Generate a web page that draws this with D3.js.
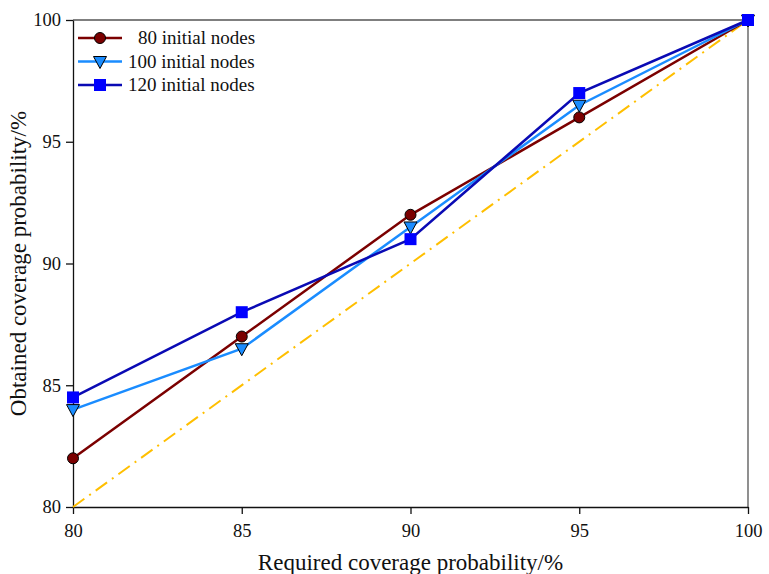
<!DOCTYPE html>
<html>
<head>
<meta charset="utf-8">
<script src="https://cdn.jsdelivr.net/npm/d3@7"></script>
<style>
	body { margin: 0; background: #fff; }
	text { font-family: "Liberation Serif", "Times New Roman", serif; }
</style>
</head>
<body>
<svg id="chart" width="769" height="574"></svg>
<script>
var required = [80, 85, 90, 95, 100];
var nodes80 = [82, 87, 92, 96, 100];
var nodes100 = [84, 86.5, 91.5, 96.5, 100];
var nodes120 = [84.5, 88, 91, 97, 100];
var xTicks = [80, 85, 90, 95, 100];
var yTicks = [80, 85, 90, 95, 100];
var seriesNames = ["80 initial nodes", "100 initial nodes", "120 initial nodes"];

var series = [
	{ name: seriesNames[0], values: nodes80, line: "#7b0000", fill: "#7b0000", stroke: "#000", shape: "circle" },
	{ name: seriesNames[1], values: nodes100, line: "#1a8cff", fill: "#1a8cff", stroke: "#000", shape: "triangle" },
	{ name: seriesNames[2], values: nodes120, line: "#0a0ab4", fill: "#0000ff", stroke: "none", shape: "square" }
];

var svg = d3.select("#chart");
var pLeft = 73, pRight = 748, pTop = 20, pBottom = 507;

var x = d3.scaleLinear().domain([80, 100]).range([pLeft, pRight]);
var y = d3.scaleLinear().domain([80, 100]).range([pBottom, pTop]);

// frame top/right
svg.append("path")
	.attr("d", "M" + pLeft + "," + pTop + "H" + pRight + "V" + pBottom)
	.attr("fill", "none").attr("stroke", "#555").attr("stroke-width", 1.3);

// axes
var xaxis = svg.append("g").attr("transform", "translate(0," + pBottom + ")")
	.call(d3.axisBottom(x).tickValues(xTicks).tickSize(7).tickSizeOuter(0).tickPadding(10));
var yaxis = svg.append("g").attr("transform", "translate(" + pLeft + ",0)")
	.call(d3.axisLeft(y).tickValues(yTicks).tickSize(7).tickSizeOuter(0).tickPadding(5));

[xaxis, yaxis].forEach(function(g){
	g.attr("font-family", null).attr("font-size", null);
	g.select(".domain").attr("stroke", "#111").attr("stroke-width", 1.3);
	g.selectAll(".tick line").attr("stroke", "#111").attr("stroke-width", 1.3);
	g.selectAll(".tick text").attr("fill", "#111")
		.style("font-family", "'Liberation Serif', serif").style("font-size", "18.5px");
});

// diagonal reference
svg.append("line")
	.attr("x1", x(80)).attr("y1", y(80)).attr("x2", x(100)).attr("y2", y(100))
	.attr("stroke", "#ffbf00").attr("stroke-width", 2)
	.attr("stroke-dasharray", "14,6,2,6");

var line = d3.line()
	.x(function(d, i){ return x(required[i]); })
	.y(function(d){ return y(d); });

function marker(g, s, cx, cy){
	if (s.shape === "circle"){
		g.append("circle").attr("cx", cx).attr("cy", cy).attr("r", 5.5)
			.attr("fill", s.fill).attr("stroke", s.stroke).attr("stroke-width", 1);
	} else if (s.shape === "triangle"){
		g.append("path")
			.attr("d", "M" + (cx - 6.5) + "," + (cy - 5) + "L" + (cx + 6.5) + "," + (cy - 5) + "L" + cx + "," + (cy + 7) + "Z")
			.attr("fill", s.fill).attr("stroke", s.stroke).attr("stroke-width", 1);
	} else {
		g.append("rect").attr("x", cx - 6).attr("y", cy - 6).attr("width", 12).attr("height", 12)
			.attr("fill", s.fill);
	}
}

series.forEach(function(s){
	svg.append("path").datum(s.values)
		.attr("d", line)
		.attr("fill", "none").attr("stroke", s.line).attr("stroke-width", 2.5);
	var g = svg.append("g");
	s.values.forEach(function(v, i){ marker(g, s, x(required[i]), y(v)); });
});

// legend
var legend = svg.append("g");
series.forEach(function(s, i){
	var ly = 38 + i * 23.5;
	legend.append("line").attr("x1", 78).attr("x2", 122).attr("y1", ly).attr("y2", ly)
		.attr("stroke", s.line).attr("stroke-width", 2.5);
	marker(legend, s, 100, ly);
	legend.append("text")
		.attr("x", i === 0 ? 138 : 128).attr("y", ly + 6)
		.style("font-size", "19px").attr("fill", "#111")
		.text(s.name);
});

// axis titles
svg.append("text")
	.attr("x", (pLeft + pRight) / 2).attr("y", 570)
	.attr("text-anchor", "middle")
	.style("font-size", "23px").attr("fill", "#111")
	.text("Required coverage probability/%");

svg.append("text")
	.attr("transform", "translate(26," + ((pTop + pBottom) / 2) + ") rotate(-90)")
	.attr("text-anchor", "middle")
	.style("font-size", "23px").attr("fill", "#111")
	.text("Obtained coverage probability/%");
</script>
</body>
</html>
